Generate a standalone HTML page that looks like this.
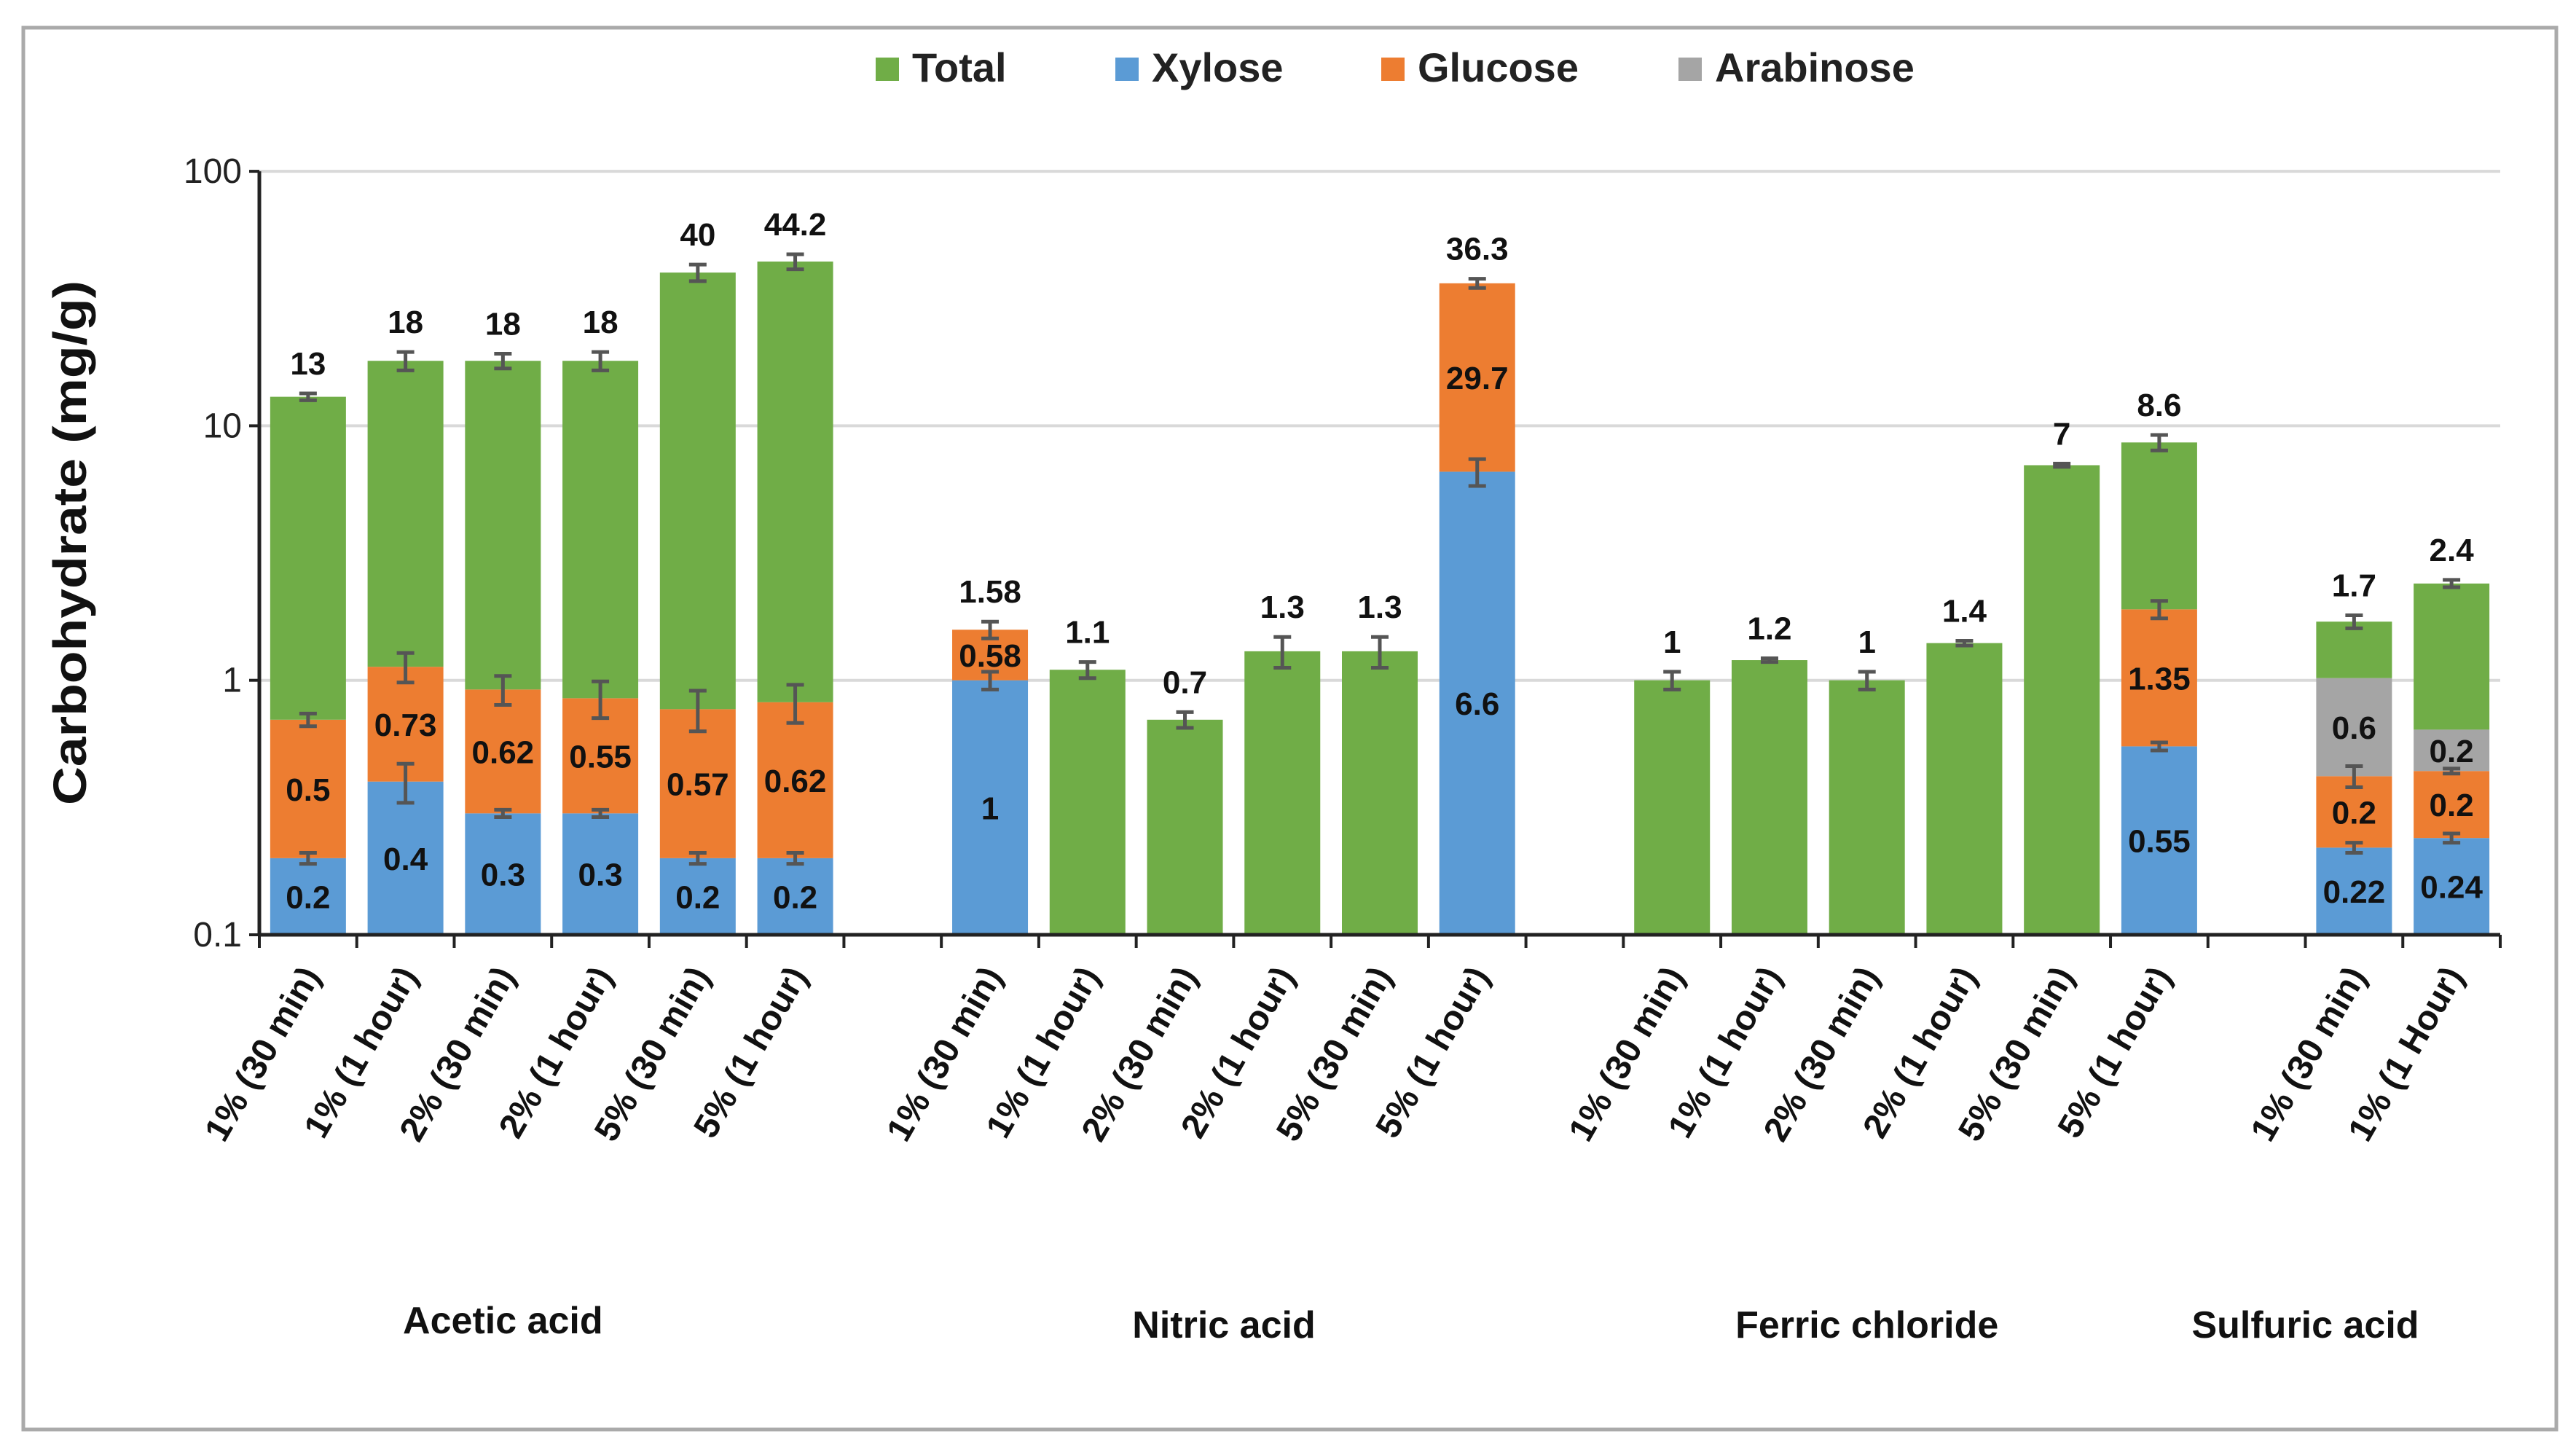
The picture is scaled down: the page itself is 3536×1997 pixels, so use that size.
<!DOCTYPE html>
<html><head><meta charset="utf-8"><style>
html,body{margin:0;padding:0;background:#fff;}
svg{display:block;font-family:"Liberation Sans",sans-serif;}
</style></head><body>
<svg id="chart" width="3536" height="1997" viewBox="0 0 3536 1997" xmlns="http://www.w3.org/2000/svg">
<rect x="32" y="38" width="3477" height="1924" fill="#fff" stroke="#aaa" stroke-width="5"/>
<g id="grid"></g><g id="bars"></g><g id="axes"></g><g id="labels"></g>
<g id="legend">
  <rect x="1202" y="79" width="32" height="32" fill="#70ad47"/>
  <text x="1252" y="112" font-size="56" font-weight="bold" fill="#222">Total</text>
  <rect x="1531" y="79" width="32" height="32" fill="#5b9bd5"/>
  <text x="1581" y="112" font-size="56" font-weight="bold" fill="#222">Xylose</text>
  <rect x="1896" y="79" width="32" height="32" fill="#ed7d31"/>
  <text x="1946" y="112" font-size="56" font-weight="bold" fill="#222">Glucose</text>
  <rect x="2304" y="79" width="32" height="32" fill="#a5a5a5"/>
  <text x="2354" y="112" font-size="56" font-weight="bold" fill="#222">Arabinose</text>
</g>
<text transform="translate(118,745) rotate(-90)" text-anchor="middle" font-size="64" font-weight="bold" fill="#111" textLength="720" lengthAdjust="spacingAndGlyphs">Carbohydrate (mg/g)</text>
</svg>
<script>
const categories=["1% (30 min)","1% (1 hour)","2% (30 min)","2% (1 hour)","5% (30 min)","5% (1 hour)",
"1% (30 min)","1% (1 hour)","2% (30 min)","2% (1 hour)","5% (30 min)","5% (1 hour)",
"1% (30 min)","1% (1 hour)","2% (30 min)","2% (1 hour)","5% (30 min)","5% (1 hour)",
"1% (30 min)","1% (1 Hour)"];
const slots=[0,1,2,3,4,5,7,8,9,10,11,12,14,15,16,17,18,19,21,22];
const groups=["Acetic acid","Nitric acid","Ferric chloride","Sulfuric acid"];
const groupSlots=[2.0,9.4,16.0,20.5];
const xylose=[0.2,0.4,0.3,0.3,0.2,0.2, 1,null,null,null,null,6.6, null,null,null,null,null,0.55, 0.22,0.24];
const glucose=[0.5,0.73,0.62,0.55,0.57,0.62, 0.58,null,null,null,null,29.7, null,null,null,null,null,1.35, 0.2,0.2];
const arabinose=[null,null,null,null,null,null, null,null,null,null,null,null, null,null,null,null,null,null, 0.6,0.2];
const total=[13,18,18,18,40,44.2, 1.58,1.1,0.7,1.3,1.3,36.3, 1,1.2,1,1.4,7,8.6, 1.7,2.4];
const xyloseErr=[0.01,0.07,0.01,0.01,0.01,0.01, 0.08,0,0,0,0,0.8, 0,0,0,0,0,0.02, 0.01,0.01];
const glucoseErr=[0.04,0.15,0.12,0.14,0.14,0.14, 0,0,0,0,0,0, 0,0,0,0,0,0.15, 0.04,0.01];
const totalErr=[0.4,1.5,1.2,1.5,3,3, 0.12,0.08,0.05,0.18,0.18,1.5, 0.08,0.02,0.08,0.03,0.1,0.6, 0.1,0.08];
const yTicks=[0.1,1,10,100];
const yTickLabels=["0.1","1","10","100"];

const X0=356,X1=3432,NS=23,SW=(X1-X0)/NS,BW=104;
const Y0=1283,DEC=349.3;
const y=v=>Y0-(Math.log10(v)+1)*DEC;
const xc=s=>X0+(s+0.5)*SW;
const NS_="http://www.w3.org/2000/svg";
function mk(tag,at,parent){const e=document.createElementNS(NS_,tag);for(const k in at)e.setAttribute(k,at[k]);parent.appendChild(e);return e;}
const G=document.getElementById('grid'),B=document.getElementById('bars'),A=document.getElementById('axes'),L=document.getElementById('labels');

yTicks.forEach((t,i)=>{
  if(i>0){const g=mk('line',{x1:X0,x2:X1,y1:y(t),y2:y(t),stroke:'#d9d9d9','stroke-width':4},G);
  
  }
  const tk=mk('line',{x1:X0-14,x2:X0,y1:y(t),y2:y(t),stroke:'#222','stroke-width':4},A);
  
  
  const tl=mk('text',{x:X0-24,y:y(t)+16,'text-anchor':'end','font-size':48,fill:'#222'},A);
  tl.textContent=yTickLabels[i];
  
  
});
const ya=mk('line',{x1:X0,x2:X0,y1:y(100),y2:Y0,stroke:'#222','stroke-width':5},A);


const xa=mk('line',{x1:X0,x2:X1,y1:Y0,y2:Y0,stroke:'#222','stroke-width':5},A);


for(let s=0;s<=NS;s++){const t=mk('line',{x1:X0+s*SW,x2:X0+s*SW,y1:Y0,y2:Y0+18,stroke:'#222','stroke-width':4},A);
  
  }

function seg(cx,lo,hi,col,name){const r=mk('rect',{x:cx-BW/2,y:y(hi),width:BW,height:y(lo)-y(hi),fill:col},B);
  
  }
function err(cx,v,e){if(!e)return;const a=y(v+e),b=y(Math.max(v-e,0.101));
  const g=mk('path',{d:`M${cx} ${a}V${b}M${cx-12} ${a}H${cx+12}M${cx-12} ${b}H${cx+12}`,stroke:'#555','stroke-width':5,fill:'none'},B);
  
  }
function lab(cx,lo,hi,txt,name){const t=mk('text',{x:cx,y:y(Math.sqrt(lo*hi))+16,'text-anchor':'middle','font-size':44,'font-weight':'bold',fill:'#111'},L);
  t.textContent=txt;
  
  }

categories.forEach((c,i)=>{
  const cx=xc(slots[i]);let base=0.1;
  const xv=xylose[i],gv=glucose[i],av=arabinose[i];
  let lv=[];
  if(xv!=null){seg(cx,base,xv,'#5b9bd5','bar-xylose');lv.push([base,xv,xv,'xylose-value']);base=xv;}
  if(gv!=null){const top=+(base+gv).toFixed(3);seg(cx,base,top,'#ed7d31','bar-glucose');lv.push([base,top,gv,'glucose-value']);base=top;}
  if(av!=null){const top=+(base+av).toFixed(3);seg(cx,base,top,'#a5a5a5','bar-arabinose');lv.push([base,top,av,'arabinose-value']);base=top;}
  if(total[i]>base*1.001)seg(cx,base,total[i],'#70ad47','bar-total');
  if(xv!=null)err(cx,xv,xyloseErr[i]);
  if(gv!=null)err(cx,xv+gv,glucoseErr[i]);
  err(cx,total[i],totalErr[i]);
  lv.forEach(l=>lab(cx,l[0],l[1],String(l[2]),l[3]));
  const tt=mk('text',{x:cx,y:y(total[i]+totalErr[i])-26,'text-anchor':'middle','font-size':44,'font-weight':'bold',fill:'#111'},L);
  tt.textContent=String(total[i]);
  
  
  const cl=mk('text',{transform:`translate(${cx+18},${Y0+56}) rotate(-60)`,'text-anchor':'end','font-size':48,'font-weight':'bold',fill:'#111'},L);
  cl.textContent=c;
  
  
});
groups.forEach((g,i)=>{
  const t=mk('text',{x:xc(groupSlots[i]),y:i==0?1830:1836,'text-anchor':'middle','font-size':52,'font-weight':'bold',fill:'#111'},L);
  t.textContent=g;
  
  
});
</script>
</body></html>
